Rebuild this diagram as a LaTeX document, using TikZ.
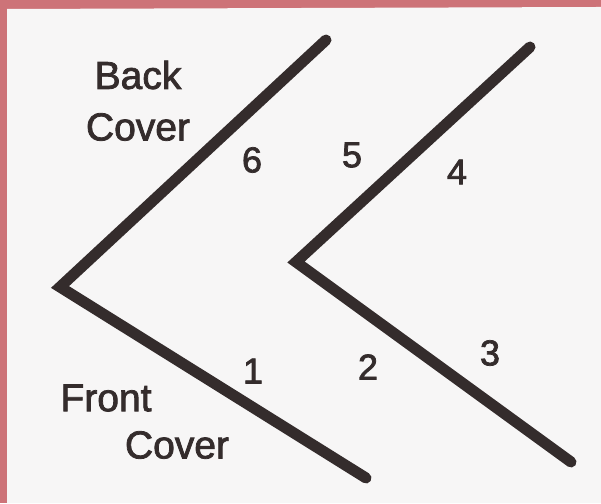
\documentclass[tikz,border=0pt]{standalone}
\usepackage{fontspec}
\setmainfont[FakeBold=2]{Liberation Sans}
\definecolor{ink}{RGB}{52,44,44}
\definecolor{paper}{RGB}{247,246,246}
\definecolor{pinkbd}{RGB}{205,115,120}
\begin{document}
\begin{tikzpicture}[x=1pt,y=-1pt,
  fold/.style={draw=ink,line width=11pt,line cap=round,line join=miter},
  lbl/.style={text=ink,font=\fontsize{39}{44}\selectfont,inner sep=0pt,align=left},
  num/.style={text=ink,font=\fontsize{36}{38}\selectfont,inner sep=0pt}]
\useasboundingbox (0,0) rectangle (601,503);
\fill[pinkbd] (0,0) rectangle (601,503);
\fill[paper] (7,9) -- (596,7) -- (601,7) -- (601,503) -- (7,503) -- cycle;
% left chevron
\coordinate (la) at (60,287);
\coordinate (lu) at (326,40);
\coordinate (ld) at (366,478);
% right chevron
\coordinate (ra) at (296,262);
\coordinate (ru) at (530,47);
\coordinate (rd) at (571,462);
\draw[fold] (lu) -- (la) -- (ld);
\draw[fold] (ru) -- (ra) -- (rd);
\node[lbl] (back) at (138,75) {Back};
\node[lbl] (bcover) at (138,127) {Cover};
\node[lbl] (front) at (106,398) {Front};
\node[lbl] (fcover) at (177,445) {Cover};
\node[num] (n6) at (252,160) {6};
\node[num] (n5) at (352,155) {5};
\node[num] (n4) at (457,172) {4};
\node[num] (n1) at (253,371) {1};
\node[num] (n2) at (368,367) {2};
\node[num] (n3) at (490,353) {3};
\end{tikzpicture}
\end{document}
